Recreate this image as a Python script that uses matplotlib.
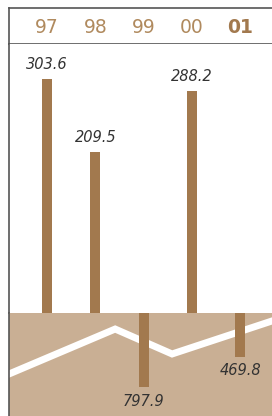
import matplotlib.pyplot as plt
import numpy as np

years = ['97', '98', '99', '00', '01']
income = [303.6, 209.5, None, 288.2, None]
loss = [None, None, -797.9, None, -469.8]
# white trend line across the lower band (x in category units)
trend_x = [-0.79, 1.41, 2.59, 4.66]
trend_y = [-658, -173, -442, -86]

bar_color = '#A2794E'
band_color = '#C9AF94'
year_color = '#B08A5E'
edge = '#555555'

fig = plt.figure(figsize=(2.72, 4.16), dpi=100)
W, H = 272, 416
left = 9 / W
width = 1 - left

ax_head = fig.add_axes([left, 1 - 44 / H, width, 36 / H])
ax = fig.add_axes([left, 1 - 313 / H, width, 269 / H], sharex=ax_head)
ax_bot = fig.add_axes([left, 0, width, 103 / H], sharex=ax_head)

x = np.arange(len(years))
xlim = (-0.79, 4.66)

# header
ax_head.set_xlim(*xlim)
ax_head.set_ylim(0, 1)
for i, y in enumerate(years):
    last = i == len(years) - 1
    ax_head.text(i, 0.47, y, ha='center', va='center', fontsize=13.5,
                 color=bar_color if last else year_color,
                 fontweight='bold' if last else 'normal', family='DejaVu Sans')
for s in ['top', 'left', 'bottom']:
    ax_head.spines[s].set_color(edge)
    ax_head.spines[s].set_linewidth(1.2)
ax_head.spines['right'].set_visible(False)

# positive bars
ax.set_ylim(0, 349)
for i, v in enumerate(income):
    if v is None:
        continue
    ax.bar(i, v, width=0.21, color=bar_color)
    ax.annotate(f'{v}', (i, v), xytext=(0, 5), textcoords='offset points',
                ha='center', va='bottom', fontsize=10.5, style='italic', color='#333333')
for s in ['top', 'right', 'bottom']:
    ax.spines[s].set_visible(False)
ax.spines['left'].set_color(edge)
ax.spines['left'].set_linewidth(1.2)

# negative band
ax_bot.set_facecolor(band_color)
ax_bot.set_ylim(-1111, 0)
ax_bot.plot(trend_x, trend_y, color='white', lw=5, solid_joinstyle='miter', zorder=1)
for i, v in enumerate(loss):
    if v is None:
        continue
    ax_bot.bar(i, v, width=0.21, color=bar_color, zorder=2)
    ax_bot.annotate(f'{-v}', (i, v), xytext=(0, -5), textcoords='offset points',
                    ha='center', va='top', fontsize=10.5, style='italic', color='#333333', zorder=3)
for s in ['top', 'right', 'bottom']:
    ax_bot.spines[s].set_visible(False)
ax_bot.spines['left'].set_color(edge)
ax_bot.spines['left'].set_linewidth(1.2)

for a in (ax_head, ax, ax_bot):
    a.set_xticks([])
    a.set_yticks([])
ax_head.set_xlim(*xlim)

fig.savefig('out.png', dpi=100)
